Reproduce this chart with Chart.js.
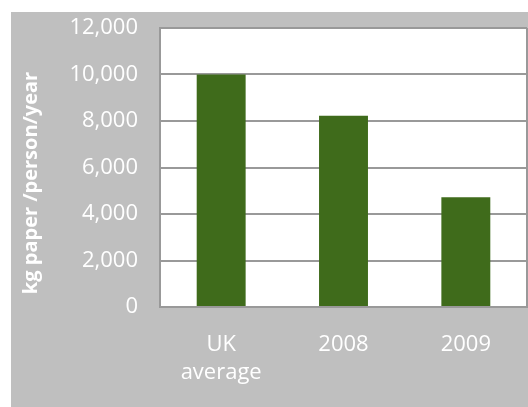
<!DOCTYPE html>
<html>
<head>
<meta charset="utf-8">
<script src="https://cdn.jsdelivr.net/npm/chart.js"></script>
<style>
html, body { margin: 0; padding: 0; background: #fff; }
#box { position: absolute; left: 11px; top: 12px; width: 517px; height: 395px; background: #bfbfbf; }
</style>
</head>
<body>
<div id="box"><canvas id="paperChart" width="517" height="395"></canvas></div>
<script>
var categories = [['UK', 'average'], '2008', '2009'];
var paperKg = [10000, 8230, 4720];
var yTitle = 'kg paper /person/year';

// white plot area, right border and the y title (placed like the original)
var plotDecor = {
    id: 'plotDecor',
    beforeDraw: function (chart) {
        var a = chart.chartArea, ctx = chart.ctx;
        ctx.save();
        ctx.fillStyle = '#ffffff';
        ctx.fillRect(a.left, a.top, a.right - a.left, a.bottom - a.top);
        ctx.restore();
    },
    afterDraw: function (chart) {
        var a = chart.chartArea, ctx = chart.ctx;
        ctx.save();
        ctx.strokeStyle = '#999999';
        ctx.lineWidth = 2;
        ctx.beginPath();
        ctx.moveTo(a.right, a.top);
        ctx.lineTo(a.right, a.bottom);
        ctx.stroke();
        ctx.translate(20, 171);
        ctx.rotate(-Math.PI / 2);
        ctx.fillStyle = '#ffffff';
        ctx.font = 'bold 20px "Open Sans"';
        ctx.textAlign = 'center';
        ctx.textBaseline = 'middle';
        ctx.fillText(yTitle, 0, 0);
        ctx.restore();
    }
};

var ctx = document.getElementById('paperChart').getContext('2d');
var paperChart = new Chart(ctx, {
    type: 'bar',
    data: {
        labels: categories,
        datasets: [{
            data: paperKg,
            backgroundColor: '#3f6b1b',
            borderWidth: 0,
            barPercentage: 0.4,
            categoryPercentage: 1.0
        }]
    },
    plugins: [plotDecor],
    options: {
        responsive: false,
        animation: false,
        layout: {
            padding: { left: 0, top: 16, right: 1, bottom: 0 }
        },
        plugins: {
            legend: { display: false },
            tooltip: { enabled: false }
        },
        scales: {
            x: {
                grid: { display: false },
                border: { display: true, color: '#999999', width: 2 },
                ticks: {
                    color: '#ffffff',
                    padding: 15,
                    maxRotation: 0,
                    font: { family: 'Open Sans', size: 22, lineHeight: 1.3 }
                },
                afterFit: function (scale) {
                    scale.height = 100;
                    scale.paddingLeft = 0;
                    scale.paddingRight = 0;
                }
            },
            y: {
                min: 0,
                max: 12000,
                grid: { color: '#999999', lineWidth: 2, drawTicks: false },
                border: { display: true, color: '#999999', width: 2 },
                ticks: {
                    stepSize: 2000,
                    color: '#ffffff',
                    padding: 22,
                    font: { family: 'Open Sans', size: 22 },
                    callback: function (v) { return v.toLocaleString('en-US'); }
                },
                afterFit: function (scale) {
                    scale.width = 149;
                    scale.paddingTop = 0;
                    scale.paddingBottom = 0;
                }
            }
        }
    }
});
</script>
</body>
</html>
